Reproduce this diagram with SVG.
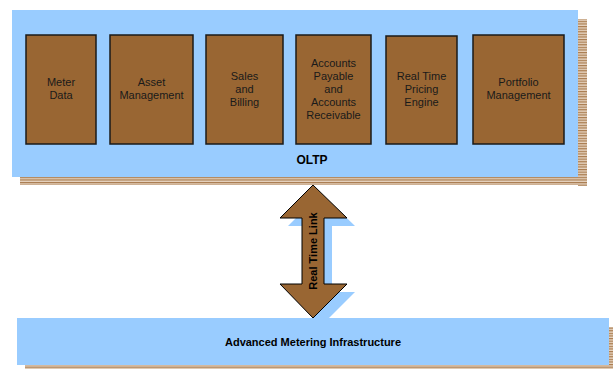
<svg xmlns="http://www.w3.org/2000/svg" width="613" height="369" viewBox="0 0 613 369">
  <defs>
    <pattern id="stripes" patternUnits="userSpaceOnUse" x="0" y="0" width="4" height="2.6">
      <rect x="0" y="0" width="4" height="2.6" fill="#e6d3bf"/>
      <rect x="0" y="0" width="4" height="1.2" fill="#a87b4f"/>
    </pattern>
  </defs>
  <style>
    .panel { fill: #99ccff; }
    .shadow { fill: url(#stripes); }
    .module { fill: #996633; stroke: #1a1a1a; stroke-width: 1.5; }
    .label { font-family: "Liberation Sans", Arial, sans-serif; font-size: 11px; fill: #1a1a1a; text-anchor: middle; }
    .title { font-family: "Liberation Sans", Arial, sans-serif; font-weight: bold; fill: #000; text-anchor: middle; }
    .arrow { fill: #996633; stroke: #000; stroke-width: 1; stroke-linejoin: miter; }
  </style>

  <!-- OLTP panel with striped drop shadow -->
  <g id="oltp">
    <rect class="shadow" x="578" y="19" width="9" height="167"/>
    <rect class="shadow" x="20" y="177" width="567" height="8"/>
    <rect class="panel" x="12" y="10" width="566" height="167"/>
    <text class="title" x="312" y="164" font-size="12">OLTP</text>
  </g>

  <g id="meter-data">
    <rect class="module" x="26" y="35" width="70" height="109"/>
    <text class="label" x="61" y="86">Meter</text>
    <text class="label" x="61" y="99">Data</text>
  </g>

  <g id="asset-management">
    <rect class="module" x="110" y="35" width="83" height="109"/>
    <text class="label" x="151.5" y="86">Asset</text>
    <text class="label" x="151.5" y="99">Management</text>
  </g>

  <g id="sales-billing">
    <rect class="module" x="206" y="35" width="77" height="109"/>
    <text class="label" x="244.5" y="80">Sales</text>
    <text class="label" x="244.5" y="93">and</text>
    <text class="label" x="244.5" y="106">Billing</text>
  </g>

  <g id="accounts">
    <rect class="module" x="296" y="35" width="75" height="109"/>
    <text class="label" x="333.5" y="67">Accounts</text>
    <text class="label" x="333.5" y="80">Payable</text>
    <text class="label" x="333.5" y="93">and</text>
    <text class="label" x="333.5" y="106">Accounts</text>
    <text class="label" x="333.5" y="119">Receivable</text>
  </g>

  <g id="pricing-engine">
    <rect class="module" x="386" y="36" width="71" height="108"/>
    <text class="label" x="421.5" y="80">Real Time</text>
    <text class="label" x="421.5" y="93">Pricing</text>
    <text class="label" x="421.5" y="106">Engine</text>
  </g>

  <g id="portfolio-management">
    <rect class="module" x="473" y="35" width="91" height="109"/>
    <text class="label" x="518.5" y="86">Portfolio</text>
    <text class="label" x="518.5" y="99">Management</text>
  </g>

  <!-- Advanced Metering Infrastructure panel -->
  <g id="ami">
    <rect class="shadow" x="609" y="327" width="4" height="42"/>
    <rect class="shadow" x="25" y="365" width="588" height="4"/>
    <rect class="panel" x="17" y="318" width="592" height="47"/>
    <text class="title" x="313" y="345.5" font-size="11">Advanced Metering Infrastructure</text>
  </g>

  <!-- Real time link: double-headed block arrow with light drop shadow -->
  <g id="connectors">
    <path fill="#99ccff" d="M321,193 L355,226 L332,226 L332,292 L355,292 L321,326 L288,292 L310,292 L310,226 L288,226 Z"/>
    <path class="arrow" d="M313,185 L347,218 L324,218 L324,284 L347,284 L313,318 L280,284 L302,284 L302,218 L280,218 Z"/>
    <text class="title" font-size="11" transform="translate(317,251) rotate(-90)">Real Time Link</text>
  </g>
</svg>
